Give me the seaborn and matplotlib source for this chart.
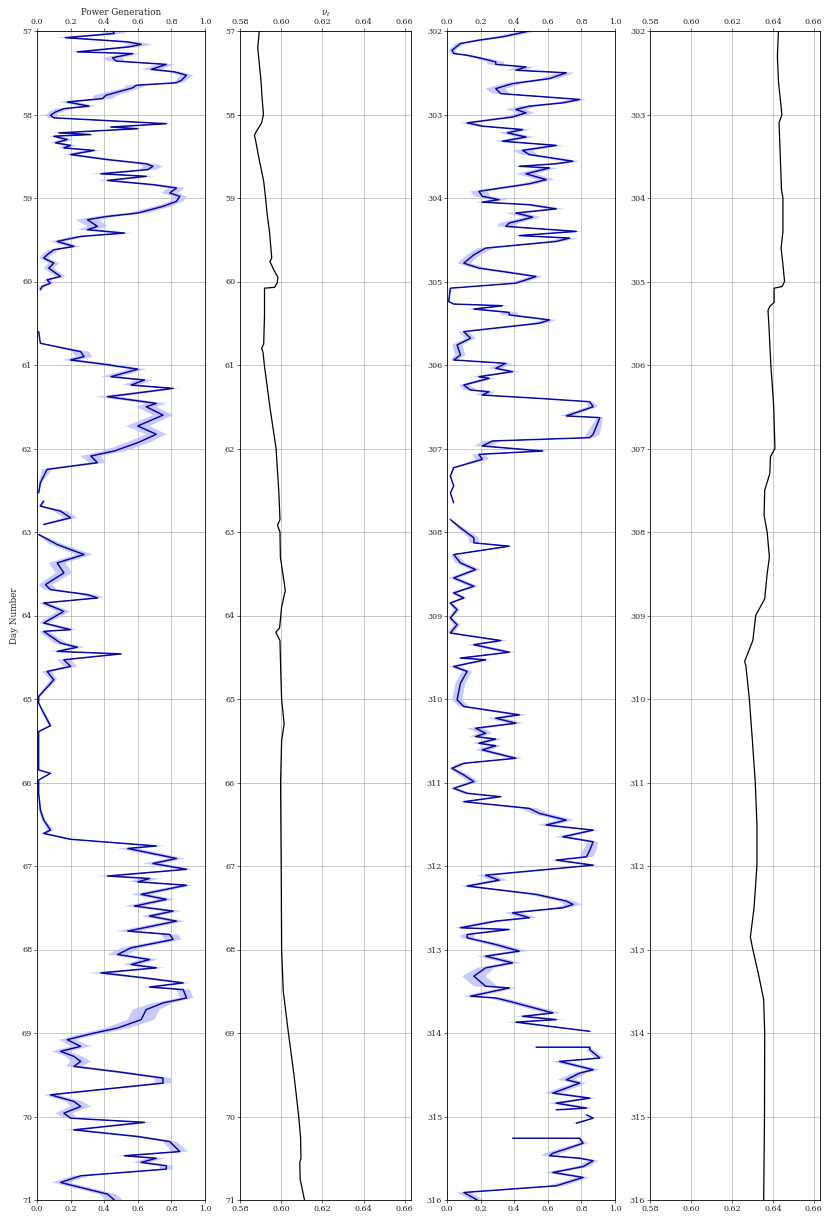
import numpy as np
import pandas as pd
import seaborn as sns
import matplotlib.pyplot as plt

# ---- panel 1: power generation, days 57-71 (turning points)
P1_DAYS = [57.00, 57.03, 57.08, 57.13, 57.16, 57.19, 57.25, 57.27, 57.32, 57.36,
           57.40, 57.46, 57.49, 57.53, 57.59, 57.62, 57.65, 57.68, 57.77, 57.81,
           57.85, 57.90, 57.93, 57.97, 58.01, 58.04, 58.11, 58.15, 58.17, 58.22,
           58.24, 58.26, 58.30, 58.34, 58.37, 58.40, 58.43, 58.48, 58.54, 58.59,
           58.62, 58.66, 58.71, 58.74, 58.79, 58.84, 58.88, 58.94, 58.98, 59.04,
           59.10, 59.18, 59.22, 59.26, 59.34, 59.38, 59.42, 59.46, 59.52, 59.58,
           59.62, 59.68, 59.72, 59.78, 59.84, 59.94, 59.98, 60.02, 60.06, 60.10,
           60.35, 60.60, 60.74, 60.84, 60.90, 60.94, 60.98, 61.05, 61.14, 61.18,
           61.24, 61.28, 61.38, 61.46, 61.50, 61.60, 61.73, 61.83, 61.93, 62.03,
           62.09, 62.17, 62.25, 62.41, 62.53, 62.58, 62.63, 62.69, 62.75, 62.83,
           62.91, 62.97, 63.03, 63.15, 63.27, 63.37, 63.49, 63.63, 63.69, 63.75,
           63.79, 63.85, 63.95, 64.09, 64.17, 64.19, 64.33, 64.38, 64.43, 64.46,
           64.53, 64.61, 64.67, 64.77, 64.97, 65.05, 65.17, 65.32, 65.39, 65.61,
           65.85, 65.89, 65.97, 66.13, 66.33, 66.45, 66.57, 66.61, 66.68, 66.76,
           66.79, 66.91, 66.97, 67.04, 67.12, 67.15, 67.19, 67.23, 67.34, 67.40,
           67.48, 67.54, 67.60, 67.66, 67.78, 67.82, 67.88, 67.98, 68.06, 68.12,
           68.18, 68.22, 68.28, 68.34, 68.40, 68.45, 68.48, 68.58, 68.64, 68.72,
           68.84, 68.94, 69.01, 69.08, 69.16, 69.22, 69.28, 69.34, 69.40, 69.47,
           69.54, 69.60, 69.74, 69.82, 69.88, 69.96, 70.02, 70.07, 70.16, 70.24,
           70.30, 70.42, 70.47, 70.50, 70.55, 70.59, 70.63, 70.71, 70.79, 70.83,
           70.93, 71.00]
P1_POWER = [0.45, 0.46, 0.17, 0.54, 0.62, 0.55, 0.24, 0.57, 0.45, 0.47,
            0.77, 0.68, 0.82, 0.89, 0.86, 0.83, 0.59, 0.57, 0.41, 0.39,
            0.18, 0.31, 0.16, 0.11, 0.08, 0.10, 0.77, 0.44, 0.60, 0.13,
            0.32, 0.10, 0.18, 0.11, 0.20, 0.16, 0.34, 0.20, 0.42, 0.65,
            0.69, 0.66, 0.38, 0.65, 0.42, 0.69, 0.83, 0.79, 0.85, 0.83,
            0.75, 0.60, 0.42, 0.30, 0.36, 0.30, 0.52, 0.26, 0.12, 0.22,
            0.10, 0.06, 0.04, 0.10, 0.07, 0.14, 0.06, 0.08, 0.03, 0.02,
            np.nan, 0.01, 0.02, 0.26, 0.28, 0.20, 0.36, 0.60, 0.44, 0.64,
            0.56, 0.81, 0.42, 0.71, 0.65, 0.75, 0.60, 0.71, 0.60, 0.46,
            0.32, 0.36, 0.06, 0.02, 0.01, np.nan, 0.04, 0.02, 0.14, 0.20,
            0.04, np.nan, 0.01, 0.12, 0.28, 0.12, 0.16, 0.05, 0.08, 0.30,
            0.36, 0.04, 0.16, 0.04, 0.20, 0.04, 0.14, 0.24, 0.12, 0.50,
            0.16, 0.20, 0.06, 0.10, 0.01, 0.01, 0.04, 0.08, 0.01, 0.01,
            0.01, 0.08, 0.01, 0.01, 0.02, 0.04, 0.08, 0.04, 0.20, 0.71,
            0.54, 0.83, 0.69, 0.89, 0.42, 0.67, 0.60, 0.89, 0.62, 0.77,
            0.58, 0.81, 0.67, 0.83, 0.54, 0.79, 0.81, 0.56, 0.48, 0.67,
            0.56, 0.71, 0.38, 0.64, 0.87, 0.67, 0.87, 0.89, 0.75, 0.65,
            0.62, 0.48, 0.32, 0.18, 0.26, 0.14, 0.22, 0.26, 0.22, 0.50,
            0.75, 0.75, 0.08, 0.22, 0.26, 0.16, 0.20, 0.64, 0.22, 0.60,
            0.79, 0.85, 0.52, 0.71, 0.62, 0.77, 0.77, 0.26, 0.14, 0.22,
            0.42, 0.46]
P1_BAND = [0.06, 0.07, 0.06, 0.06, 0.07, 0.06, 0.06, 0.05, 0.06, 0.05,
           0.05, 0.06, 0.04, 0.04, 0.03, 0.04, 0.06, 0.05, 0.07, 0.06,
           0.05, 0.05, 0.05, 0.04, 0.03, 0.03, 0.04, 0.05, 0.04, 0.04,
           0.04, 0.03, 0.04, 0.03, 0.04, 0.03, 0.05, 0.04, 0.05, 0.05,
           0.06, 0.05, 0.06, 0.05, 0.06, 0.06, 0.05, 0.05, 0.04, 0.04,
           0.05, 0.06, 0.07, 0.07, 0.06, 0.06, 0.05, 0.05, 0.04, 0.04,
           0.03, 0.03, 0.03, 0.03, 0.03, 0.03, 0.02, 0.02, 0.02, 0.01,
           np.nan, 0.00, 0.00, 0.05, 0.05, 0.05, 0.06, 0.05, 0.06, 0.05,
           0.05, 0.04, 0.07, 0.06, 0.06, 0.06, 0.07, 0.06, 0.07, 0.07,
           0.06, 0.05, 0.03, 0.01, 0.00, np.nan, 0.01, 0.01, 0.04, 0.04,
           0.02, np.nan, 0.01, 0.04, 0.05, 0.05, 0.05, 0.04, 0.04, 0.05,
           0.04, 0.03, 0.04, 0.03, 0.04, 0.03, 0.04, 0.04, 0.04, 0.03,
           0.04, 0.04, 0.03, 0.02, 0.01, 0.00, 0.01, 0.01, 0.00, 0.00,
           0.00, 0.00, 0.00, 0.00, 0.01, 0.01, 0.02, 0.02, 0.03, 0.05,
           0.06, 0.05, 0.06, 0.04, 0.07, 0.06, 0.06, 0.04, 0.06, 0.05,
           0.06, 0.05, 0.05, 0.05, 0.07, 0.05, 0.05, 0.06, 0.06, 0.05,
           0.05, 0.05, 0.07, 0.05, 0.04, 0.05, 0.04, 0.04, 0.06, 0.08,
           0.08, 0.07, 0.06, 0.05, 0.06, 0.05, 0.05, 0.06, 0.05, 0.05,
           0.05, 0.05, 0.04, 0.05, 0.06, 0.05, 0.04, 0.05, 0.05, 0.05,
           0.04, 0.05, 0.05, 0.05, 0.05, 0.04, 0.04, 0.05, 0.05, 0.05,
           0.05, 0.05]

# ---- panel 3: power generation, days 302-316
P3_DAYS = [302.00, 302.07, 302.11, 302.15, 302.23, 302.27, 302.29, 302.33, 302.37, 302.40,
           302.43, 302.47, 302.50, 302.57, 302.63, 302.69, 302.75, 302.82, 302.86, 302.90,
           302.94, 302.98, 303.03, 303.10, 303.14, 303.18, 303.22, 303.27, 303.32, 303.37,
           303.43, 303.48, 303.56, 303.59, 303.62, 303.64, 303.71, 303.78, 303.83, 303.92,
           303.98, 304.02, 304.05, 304.08, 304.13, 304.18, 304.23, 304.30, 304.34, 304.40,
           304.45, 304.48, 304.52, 304.60, 304.68, 304.78, 304.84, 304.88, 304.94, 305.02,
           305.08, 305.24, 305.27, 305.29, 305.33, 305.37, 305.40, 305.46, 305.50, 305.60,
           305.68, 305.76, 305.88, 305.94, 305.98, 306.04, 306.08, 306.14, 306.16, 306.24,
           306.30, 306.32, 306.36, 306.40, 306.44, 306.50, 306.61, 306.63, 306.73, 306.83,
           306.87, 306.91, 306.97, 307.03, 307.07, 307.13, 307.23, 307.33, 307.45, 307.53,
           307.65, 307.75, 307.85, 307.95, 308.07, 308.13, 308.17, 308.27, 308.37, 308.45,
           308.55, 308.65, 308.73, 308.79, 308.85, 308.93, 309.03, 309.11, 309.21, 309.30,
           309.35, 309.44, 309.51, 309.53, 309.61, 309.67, 309.81, 310.01, 310.09, 310.19,
           310.23, 310.29, 310.35, 310.41, 310.45, 310.48, 310.53, 310.56, 310.61, 310.71,
           310.77, 310.83, 310.91, 310.99, 311.07, 311.13, 311.17, 311.23, 311.31, 311.37,
           311.45, 311.51, 311.57, 311.65, 311.71, 311.81, 311.89, 311.93, 311.99, 312.05,
           312.11, 312.17, 312.24, 312.34, 312.42, 312.46, 312.50, 312.56, 312.62, 312.66,
           312.74, 312.76, 312.82, 312.86, 312.94, 313.02, 313.08, 313.16, 313.22, 313.32,
           313.44, 313.46, 313.56, 313.58, 313.62, 313.76, 313.80, 313.84, 313.87, 313.98,
           314.08, 314.17, 314.17, 314.20, 314.30, 314.34, 314.44, 314.48, 314.56, 314.60,
           314.72, 314.78, 314.84, 314.90, 314.92, 314.95, 314.98, 315.02, 315.08, 315.15,
           315.26, 315.26, 315.32, 315.44, 315.47, 315.50, 315.53, 315.60, 315.67, 315.73,
           315.83, 315.91, 316.00]
P3_POWER = [0.49, 0.33, 0.19, 0.08, 0.03, 0.04, 0.12, 0.21, 0.29, 0.29,
            0.47, 0.41, 0.71, 0.61, 0.39, 0.29, 0.32, 0.79, 0.69, 0.49,
            0.41, 0.47, 0.39, 0.12, 0.21, 0.45, 0.36, 0.47, 0.33, 0.65,
            0.45, 0.49, 0.75, 0.65, 0.43, 0.61, 0.47, 0.59, 0.49, 0.19,
            0.21, 0.31, 0.21, 0.49, 0.65, 0.41, 0.51, 0.37, 0.35, 0.77,
            0.43, 0.73, 0.65, 0.23, 0.16, 0.10, 0.19, 0.33, 0.53, 0.41,
            0.02, 0.01, 0.04, 0.33, 0.16, 0.37, 0.37, 0.61, 0.55, 0.10,
            0.14, 0.06, 0.08, 0.04, 0.35, 0.29, 0.39, 0.19, 0.25, 0.10,
            0.14, 0.25, 0.21, 0.55, 0.85, 0.87, 0.71, 0.91, 0.89, 0.87,
            0.85, 0.27, 0.21, 0.57, 0.19, 0.21, 0.04, 0.02, 0.04, 0.02,
            0.04, np.nan, 0.02, 0.08, 0.16, 0.16, 0.37, 0.04, 0.08, 0.17,
            0.04, 0.16, 0.04, 0.10, 0.02, 0.06, 0.02, 0.06, 0.02, 0.32,
            0.16, 0.37, 0.08, 0.23, 0.04, 0.12, 0.08, 0.06, 0.10, 0.43,
            0.29, 0.41, 0.17, 0.23, 0.17, 0.29, 0.19, 0.29, 0.21, 0.41,
            0.10, 0.03, 0.10, 0.16, 0.04, 0.12, 0.32, 0.10, 0.49, 0.55,
            0.71, 0.59, 0.87, 0.69, 0.87, 0.85, 0.83, 0.65, 0.87, 0.55,
            0.23, 0.31, 0.12, 0.53, 0.71, 0.75, 0.69, 0.39, 0.49, 0.29,
            0.08, 0.37, 0.12, 0.12, 0.29, 0.43, 0.23, 0.39, 0.23, 0.16,
            0.23, 0.37, 0.14, 0.29, 0.37, 0.63, 0.45, 0.65, 0.41, 0.85,
            np.nan, 0.53, 0.85, 0.85, 0.91, 0.67, 0.87, 0.79, 0.71, 0.79,
            0.63, 0.85, 0.65, 0.83, 0.65, np.nan, 0.83, 0.87, 0.77, np.nan,
            0.39, 0.79, 0.81, 0.63, 0.61, 0.79, 0.87, 0.81, 0.63, 0.81,
            0.65, 0.10, 0.18]
P3_BAND = [0.05, 0.05, 0.04, 0.03, 0.02, 0.02, 0.03, 0.04, 0.05, 0.05,
           0.05, 0.06, 0.05, 0.05, 0.06, 0.06, 0.05, 0.04, 0.05, 0.06,
           0.06, 0.05, 0.05, 0.04, 0.04, 0.05, 0.05, 0.05, 0.05, 0.05,
           0.06, 0.05, 0.04, 0.05, 0.05, 0.05, 0.06, 0.05, 0.05, 0.05,
           0.05, 0.05, 0.04, 0.05, 0.05, 0.06, 0.05, 0.06, 0.05, 0.04,
           0.05, 0.05, 0.05, 0.05, 0.04, 0.04, 0.04, 0.05, 0.04, 0.04,
           0.01, 0.00, 0.01, 0.04, 0.04, 0.05, 0.05, 0.04, 0.05, 0.03,
           0.03, 0.03, 0.03, 0.02, 0.04, 0.04, 0.04, 0.04, 0.04, 0.03,
           0.04, 0.04, 0.04, 0.03, 0.02, 0.03, 0.04, 0.02, 0.03, 0.04,
           0.03, 0.05, 0.05, 0.04, 0.04, 0.04, 0.01, 0.00, 0.00, 0.00,
           0.00, np.nan, 0.00, 0.02, 0.03, 0.03, 0.03, 0.02, 0.03, 0.03,
           0.03, 0.03, 0.02, 0.02, 0.01, 0.02, 0.01, 0.02, 0.02, 0.04,
           0.04, 0.04, 0.03, 0.03, 0.03, 0.03, 0.03, 0.03, 0.03, 0.05,
           0.05, 0.05, 0.05, 0.04, 0.04, 0.04, 0.04, 0.04, 0.04, 0.04,
           0.03, 0.02, 0.03, 0.03, 0.02, 0.03, 0.03, 0.03, 0.05, 0.05,
           0.05, 0.05, 0.03, 0.05, 0.03, 0.04, 0.04, 0.04, 0.03, 0.05,
           0.05, 0.05, 0.04, 0.05, 0.05, 0.05, 0.05, 0.05, 0.05, 0.05,
           0.04, 0.04, 0.04, 0.04, 0.05, 0.05, 0.05, 0.05, 0.05, 0.07,
           0.07, 0.05, 0.05, 0.05, 0.05, 0.05, 0.05, 0.05, 0.05, 0.02,
           np.nan, 0.00, 0.00, 0.02, 0.03, 0.05, 0.04, 0.04, 0.05, 0.04,
           0.05, 0.04, 0.05, 0.04, 0.03, np.nan, 0.00, 0.00, 0.03, np.nan,
           0.00, 0.00, 0.03, 0.05, 0.05, 0.04, 0.03, 0.04, 0.05, 0.04,
           0.05, 0.04, 0.04]

# ---- panels 2 and 4: nu_t
P2_DAYS = [57.00, 57.20, 57.40, 57.60, 57.80, 58.00, 58.10, 58.20, 58.25, 58.30,
           58.50, 58.80, 59.00, 59.20, 59.40, 59.60, 59.72, 59.76, 59.85, 59.95,
           60.02, 60.07, 60.08, 60.40, 60.75, 60.80, 60.85, 61.00, 61.50, 62.00,
           62.50, 62.85, 62.92, 63.00, 63.30, 63.70, 63.90, 64.15, 64.20, 64.30,
           64.60, 65.00, 65.30, 65.50, 66.00, 67.00, 68.00, 68.50, 69.00, 69.50,
           70.00, 70.25, 70.50, 70.55, 70.75, 71.00]
P2_NU = [0.5894, 0.5886, 0.5894, 0.5902, 0.5907, 0.5914, 0.5905, 0.5880, 0.5870, 0.5875,
         0.5890, 0.5915, 0.5924, 0.5932, 0.5943, 0.5950, 0.5954, 0.5945, 0.5962, 0.5984,
         0.5980, 0.5967, 0.5919, 0.5919, 0.5915, 0.5905, 0.5912, 0.5918, 0.5945, 0.5975,
         0.5988, 0.5994, 0.5982, 0.5994, 0.5996, 0.6020, 0.6002, 0.5992, 0.5974, 0.5994,
         0.5997, 0.6002, 0.6014, 0.6002, 0.5997, 0.6000, 0.6002, 0.6010, 0.6035, 0.6062,
         0.6085, 0.6094, 0.6096, 0.6090, 0.6092, 0.6113]

P4_DAYS = [302.00, 302.30, 302.60, 303.00, 303.10, 303.50, 303.90, 304.00, 304.40, 304.60,
           304.80, 305.00, 305.06, 305.08, 305.25, 305.30, 305.35, 305.50, 306.00, 306.50,
           307.00, 307.10, 307.30, 307.50, 307.80, 308.00, 308.30, 308.50, 308.80, 309.00,
           309.30, 309.55, 309.60, 310.00, 310.50, 311.00, 311.50, 312.00, 312.50, 312.85,
           313.00, 313.30, 313.60, 314.00, 315.00, 316.00]
P4_NU = [0.6427, 0.6422, 0.6427, 0.6444, 0.6430, 0.6436, 0.6442, 0.6449, 0.6449, 0.6440,
         0.6449, 0.6457, 0.6445, 0.6406, 0.6406, 0.6384, 0.6376, 0.6380, 0.6390, 0.6404,
         0.6410, 0.6388, 0.6385, 0.6360, 0.6357, 0.6372, 0.6383, 0.6372, 0.6360, 0.6316,
         0.6302, 0.6262, 0.6268, 0.6285, 0.6300, 0.6314, 0.6322, 0.6322, 0.6308, 0.6290,
         0.6302, 0.6330, 0.6355, 0.6360, 0.6359, 0.6355]

POWER_TICKS = [0.0, 0.2, 0.4, 0.6, 0.8, 1.0]
NU_TICKS = [0.58, 0.60, 0.62, 0.64, 0.66]


def segments(days, vals):
    d = pd.DataFrame({"day": days, "val": vals})
    d["seg"] = d["val"].isna().cumsum()
    return d


sns.set_theme(style="ticks")
plt.rcParams["font.family"] = "serif"
plt.rcParams["font.serif"] = ["DejaVu Serif"]
plt.rcParams["mathtext.fontset"] = "dejavuserif"

fig = plt.figure(figsize=(8.3, 12.2), dpi=100)
W, H = 830, 1220
bottom, height = 20 / H, 1169 / H
lefts = [37, 240, 447, 650]
widths = [168, 171, 168, 170]
axes = [fig.add_axes([l / W, bottom, w / W, height]) for l, w in zip(lefts, widths)]


def style(ax, days0, xticks, xlim):
    ax.set_xlim(*xlim)
    ax.set_ylim(days0 + 14, days0)
    ax.set_xticks(xticks)
    ax.set_yticks(np.arange(days0, days0 + 15))
    ax.grid(True, color="#b0b0b0", lw=0.5)
    ax.tick_params(labelsize=5.8, length=2, width=0.5, pad=1.5,
                   top=True, labeltop=True, bottom=True, labelbottom=True)
    for s in ax.spines.values():
        s.set_linewidth(0.6)
        s.set_color("black")
    ax.set_xlabel("")
    ax.set_ylabel("")


def power_panel(ax, days, vals, band, days0):
    d = segments(days, vals)
    b = np.array(band, dtype=float)
    ax.fill_betweenx(d["day"], d["val"] - b, d["val"] + b, color="#c0c0fa",
                     alpha=0.85, lw=0)
    sns.lineplot(data=d, x="val", y="day", units="seg", estimator=None, sort=False,
                 orient="y", color="#1a1aff", linewidth=1.1, ax=ax)
    sns.lineplot(data=d, x="val", y="day", units="seg", estimator=None, sort=False,
                 orient="y", color="black", linewidth=0.35, ax=ax)
    style(ax, days0, POWER_TICKS, (0, 1))


def nu_panel(ax, days, vals, days0):
    d = segments(days, vals)
    sns.lineplot(data=d, x="val", y="day", units="seg", estimator=None, sort=False,
                 orient="y", color="black", linewidth=0.9, ax=ax)
    style(ax, days0, NU_TICKS, (0.58, 0.663))


power_panel(axes[0], P1_DAYS, P1_POWER, P1_BAND, 57)
nu_panel(axes[1], P2_DAYS, P2_NU, 57)
power_panel(axes[2], P3_DAYS, P3_POWER, P3_BAND, 302)
nu_panel(axes[3], P4_DAYS, P4_NU, 302)

axes[0].xaxis.set_label_position("top")
axes[0].set_xlabel("Power Generation", fontsize=6.3, labelpad=2)
axes[0].set_ylabel("Day Number", fontsize=6.3, labelpad=2)
axes[1].xaxis.set_label_position("top")
axes[1].set_xlabel(r"$\nu_t$", fontsize=6.3, labelpad=2)

fig.savefig("out.png", dpi=100)
